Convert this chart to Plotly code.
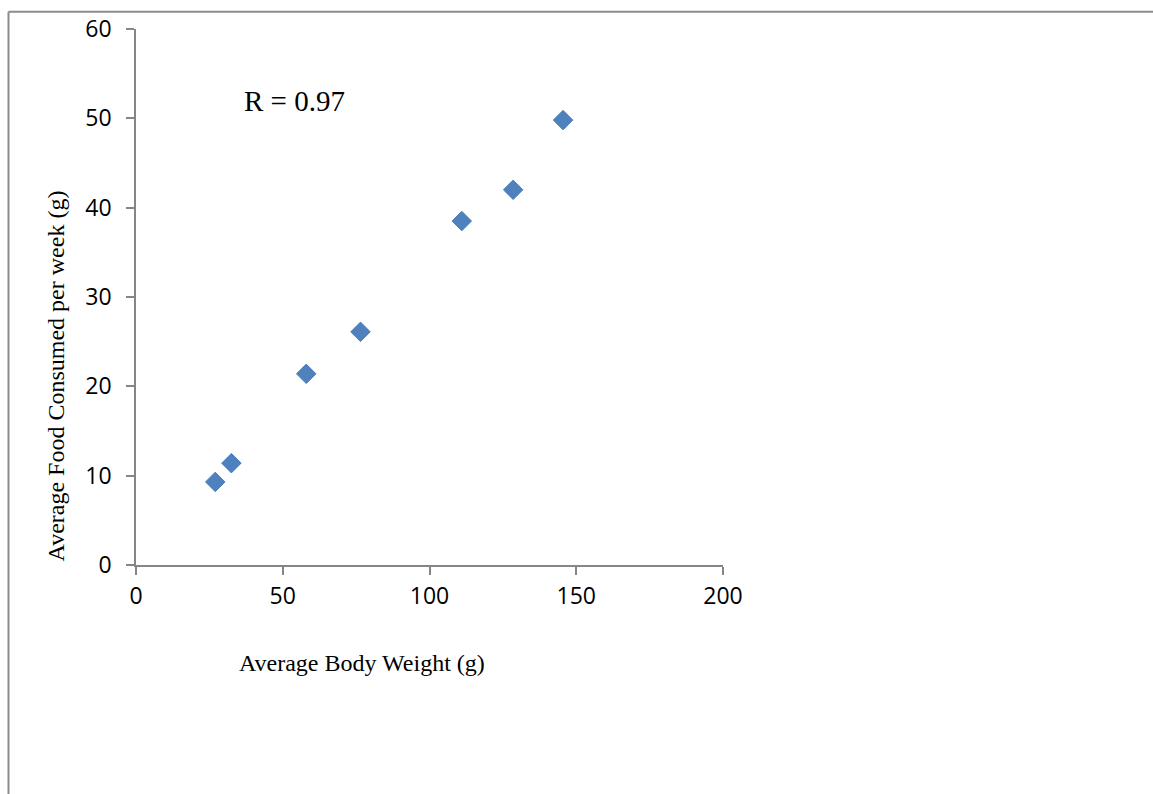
import plotly.graph_objects as go

body_weight = [27.0, 32.5, 58.0, 76.5, 111.0, 128.5, 145.5]
food_consumed = [9.3, 11.4, 21.4, 26.1, 38.5, 42.0, 49.8]
x_ticks = [0, 50, 100, 150, 200]
y_ticks = [0, 10, 20, 30, 40, 50, 60]

W, H = 1153, 794
L, R, T, B = 136, 430, 25, 229
pw, ph = W - L - R, H - T - B

fig = go.Figure()
fig.add_trace(go.Scatter(
    x=body_weight, y=food_consumed, mode="markers",
    marker=dict(symbol="diamond", size=15, color="#4F81BD",
                line=dict(color="#4A7EBB", width=1)),
    showlegend=False, cliponaxis=False))

axis_common = dict(showgrid=False, zeroline=False, showline=True,
                   linecolor="#868686", linewidth=1.5, ticks="outside",
                   ticklen=8, tickcolor="#868686", tickwidth=1.5,
                   tickfont=dict(family="Open Sans, Carlito, sans-serif", size=23, color="black"))

fig.update_xaxes(range=[0, 200], tickvals=x_ticks, **axis_common,
                 ticklabelstandoff=2)
fig.update_yaxes(range=[0, 60], tickvals=y_ticks, **axis_common,
                 ticklabelstandoff=10)

fig.add_annotation(text="R = 0.97", xref="paper", yref="paper",
                   x=(242 - L) / pw, y=1 - (98 - T) / ph, xanchor="left", yanchor="middle",
                   showarrow=False,
                   font=dict(family="Liberation Serif, Times New Roman, serif", size=29, color="black"))
fig.add_annotation(text="Average Body Weight (g)", xref="paper", yref="paper",
                   x=(362 - L) / pw, y=1 - (664 - T) / ph, xanchor="center", yanchor="middle",
                   showarrow=False,
                   font=dict(family="Liberation Serif, Times New Roman, serif", size=24, color="black"))
fig.add_annotation(text="Average Food Consumed per week (g)", xref="paper", yref="paper",
                   x=(56 - L) / pw, y=1 - (375 - T) / ph, xanchor="center", yanchor="middle",
                   textangle=-90, showarrow=False,
                   font=dict(family="Liberation Serif, Times New Roman, serif", size=24, color="black"))

# outer frame lines (top and left)
top_y = 1 + (T - 7.5) / ph
left_x = (8.5 - L) / pw
fig.add_shape(type="line", xref="paper", yref="paper",
              x0=left_x, x1=(W + 5 - L) / pw, y0=top_y, y1=top_y,
              line=dict(color="#8C8C8C", width=2))
fig.add_shape(type="line", xref="paper", yref="paper",
              x0=left_x, x1=left_x, y0=top_y, y1=-(B + 5) / ph,
              line=dict(color="#8C8C8C", width=2))

fig.update_layout(width=W, height=H, margin=dict(l=L, r=R, t=T, b=B),
                  plot_bgcolor="white", paper_bgcolor="white")
fig.write_html("out.html")
